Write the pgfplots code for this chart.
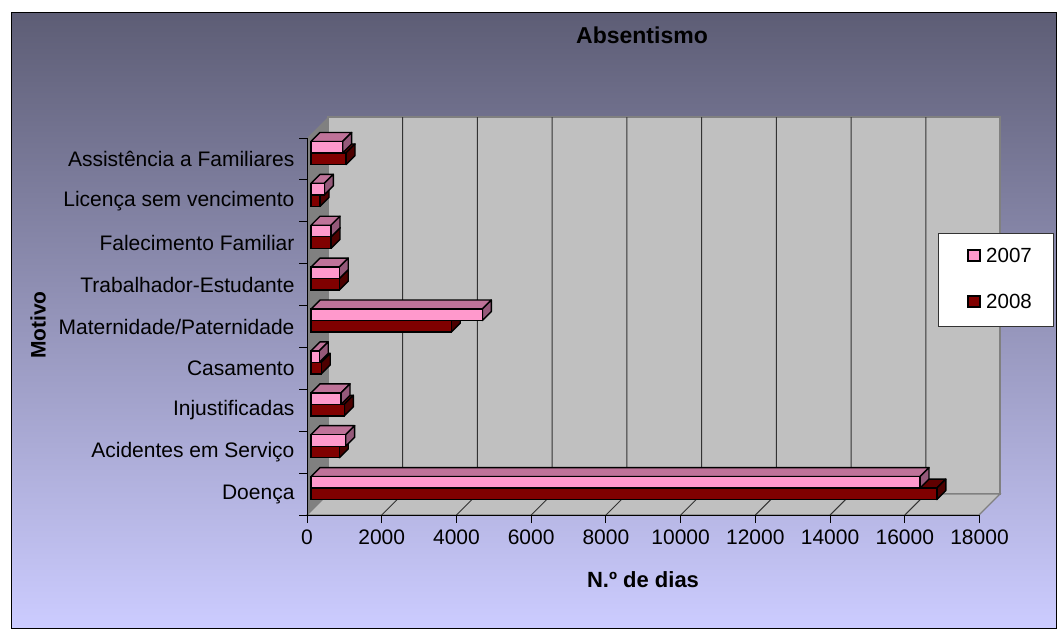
\documentclass[border=0pt]{standalone}
\usepackage{pgfplots}
\pgfplotsset{compat=1.18}
\usepackage{fontspec}
\setmainfont{Liberation Sans}
\definecolor{pinkf}{HTML}{FF99CC}
\definecolor{pinkt}{HTML}{BF7399}
\definecolor{pinks}{HTML}{95597A}
\definecolor{redf}{HTML}{800000}
\definecolor{redt}{HTML}{600000}
\definecolor{reds}{HTML}{4D0000}
\definecolor{wallgray}{HTML}{C0C0C0}
\definecolor{sidegray}{HTML}{808080}
% depth of the bars in data units: 9px horizontally, 9px vertically
\newcommand{\cube}[5]{% value, lower edge, upper edge, top colour, side colour
  \edef\xe{\the\numexpr#1+241\relax}
  \pgfmathsetmacro{\yt}{#3+0.215}
  \pgfmathsetmacro{\ye}{#2+0.215}
  \addplot[draw=black,line width=1.4pt,fill=#4,forget plot,line join=round] coordinates {(0,#3) (#1,#3) (\xe,\yt) (241,\yt)} --cycle;
  \addplot[draw=black,line width=1.4pt,fill=#5,forget plot,line join=round] coordinates {(#1,#2) (#1,#3) (\xe,\yt) (\xe,\ye)} --cycle;
}
\begin{document}
\begin{tikzpicture}[x=1pt,y=-1pt]
\useasboundingbox (0,0) rectangle (1058,629);
\fill[white] (0,0) rectangle (1058,629);
\shade[top color={rgb,255:red,93;green,93;blue,117},bottom color={rgb,255:red,204;green,204;blue,255}] (11,12) rectangle (1056,628);
\draw[black,line width=1pt] (11,12) rectangle (1056,628);
% walls
\fill[wallgray,draw=sidegray,line width=1.2pt] (328,117) rectangle (1000,494);
\fill[sidegray] (307,138) -- (328,117) -- (328,494) -- (307,515) -- cycle;
\fill[wallgray,draw=sidegray,line width=1.2pt] (307,515) -- (328,494) -- (1000,494) -- (979,515) -- cycle;
\foreach \v in {2,4,...,16}{
  \pgfmathsetmacro{\px}{307+\v*37.37}
  \draw[black!80,line width=1pt] (\px+21,117) -- (\px+21,494) -- (\px,515);
}
\begin{axis}[
  at={(307pt,-515pt)},anchor=south west,
  width=672.5pt,height=377pt,scale only axis,
  xmin=0,xmax=18000,ymin=0,ymax=9,
  axis y line*=left,axis x line*=bottom,
  axis line style={black,line width=1pt,-},
  xtick={0,2000,...,18000},
  ytick={0.5,1.5,...,8.5},
  minor ytick={0,1,...,9},
  yticklabels={Doença,Acidentes em Serviço,Injustificadas,Casamento,Maternidade/Paternidade,Trabalhador-Estudante,Falecimento Familiar,Licença sem vencimento,Assistência a Familiares},
  scaled x ticks=false,
  /pgf/number format/assume math mode=true,
  /pgf/number format/1000 sep={},
  tick label style={font=\fontsize{21}{24}\selectfont,text=black},
  xticklabel style={yshift=-3pt},
  yticklabel style={xshift=-1pt},
  major y tick style={draw=none},
  minor tick length=8pt,
  major tick length=8pt,
  tick align=outside,
  tick pos=left,
  minor tick style={black,line width=1pt},
  major x tick style={black,line width=1pt},
  clip=false,
  every axis plot/.append style={xshift=4pt,yshift=7pt},
]
% 2008 (value, y lower, y upper)
\cube{16750}{0.2}{0.475}{redt}{reds}
\cube{757}{1.2}{1.475}{redt}{reds}
\cube{892}{2.2}{2.475}{redt}{reds}
\cube{275}{3.2}{3.475}{redt}{reds}
\cube{3755}{4.2}{4.475}{redt}{reds}
\cube{757}{5.2}{5.475}{redt}{reds}
\cube{535}{6.2}{6.475}{redt}{reds}
\cube{241}{7.2}{7.475}{redt}{reds}
\cube{937}{8.2}{8.475}{redt}{reds}
% 2007
\cube{16300}{0.475}{0.75}{pinkt}{pinks}
\cube{928}{1.475}{1.75}{pinkt}{pinks}
\cube{803}{2.475}{2.75}{pinkt}{pinks}
\cube{222}{3.475}{3.75}{pinkt}{pinks}
\cube{4585}{4.475}{4.75}{pinkt}{pinks}
\cube{757}{5.475}{5.75}{pinkt}{pinks}
\cube{535}{6.475}{6.75}{pinkt}{pinks}
\cube{357}{7.475}{7.75}{pinkt}{pinks}
\cube{848}{8.475}{8.75}{pinkt}{pinks}
% front faces
\addplot[xbar,bar width=11.5pt,bar shift=0pt,draw=black,line width=1.4pt,fill=redf,forget plot] coordinates {(16750,0.3375) (757,1.3375) (892,2.3375) (275,3.3375) (3755,4.3375) (757,5.3375) (535,6.3375) (241,7.3375) (937,8.3375)};
\addplot[xbar,bar width=11.5pt,bar shift=0pt,draw=black,line width=1.4pt,fill=pinkf,forget plot] coordinates {(16300,0.6125) (928,1.6125) (803,2.6125) (222,3.6125) (4585,4.6125) (757,5.6125) (535,6.6125) (357,7.6125) (848,8.6125)};
\end{axis}
\node[font=\bfseries\fontsize{23}{26}\selectfont] at (642,35) {Absentismo};
\node[font=\bfseries\fontsize{22}{25}\selectfont] at (643,580) {N.º de dias};
\node[font=\bfseries\fontsize{21}{24}\selectfont,rotate=90] at (38,325) {Motivo};
% legend
\fill[white,draw=black!80,line width=1pt] (938,233) rectangle (1053,326);
\fill[pinkf,draw=black,line width=1.2pt] (968,250) rectangle (980,261);
\fill[redf,draw=black,line width=1.2pt] (968,296) rectangle (980,307);
\node[anchor=west,inner sep=0pt,font=\fontsize{20.5}{24}\selectfont] at (986,255) {2007};
\node[anchor=west,inner sep=0pt,font=\fontsize{20.5}{24}\selectfont] at (986,301) {2008};
\end{tikzpicture}
\end{document}
